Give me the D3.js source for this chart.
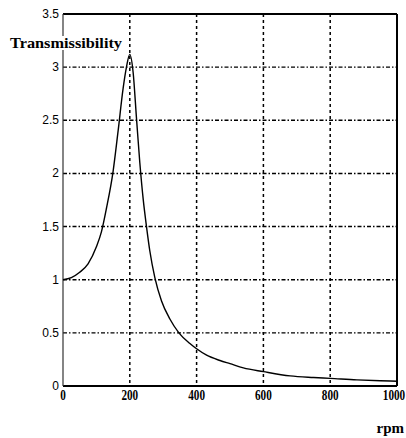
<!DOCTYPE html>
<html><head><meta charset="utf-8">
<script src="https://cdn.jsdelivr.net/npm/d3@7"></script>
<style>body{margin:0;background:#fff}svg{display:block}</style>
</head><body>
<svg id="c" width="406" height="438"></svg>
<script>
const rpm = [0,25,50,75,100,115,130,150,165,180,190,200,210,220,230,240,250,260,275,295,320,347,380,400,430,470,500,540,600,680,750,800,880,950,1000];
const transmissibility = [1.0,1.02,1.07,1.15,1.31,1.45,1.67,2.02,2.4,2.8,3.0,3.12,2.95,2.52,2.1,1.76,1.5,1.27,1.02,0.8,0.63,0.5,0.4,0.35,0.29,0.24,0.21,0.17,0.135,0.095,0.08,0.072,0.058,0.05,0.045];
const xTicks = [0,200,400,600,800,1000];
const yTicks = [0,0.5,1,1.5,2,2.5,3,3.5];
const xGrid = [200,400,600,800];
const yGrid = [0.5,1,1.5,2,2.5,3];

const svg = d3.select("#c");
const x = d3.scaleLinear().domain([0,1000]).range([63,397]);
const y = d3.scaleLinear().domain([0,3.5]).range([386,14]);

// grid
svg.append("g").selectAll("line").data(xGrid).join("line")
  .attr("x1",d=>x(d)).attr("x2",d=>x(d)).attr("y1",y(3.5)).attr("y2",y(0))
  .attr("stroke","#000").attr("stroke-width",1.5).attr("stroke-dasharray","3,3");
svg.append("g").selectAll("line").data(yGrid).join("line")
  .attr("x1",x(0)).attr("x2",x(1000)).attr("y1",d=>y(d)).attr("y2",d=>y(d))
  .attr("stroke","#000").attr("stroke-width",1.4).attr("stroke-dasharray","4,2,1.5,2");

// frame
svg.append("line").attr("x1",x(0)).attr("x2",x(1000)).attr("y1",y(3.5)).attr("y2",y(3.5)).attr("stroke","#000").attr("stroke-width",2);
svg.append("line").attr("x1",x(1000)).attr("x2",x(1000)).attr("y1",y(3.5)).attr("y2",y(0)).attr("stroke","#000").attr("stroke-width",2);
svg.append("line").attr("x1",x(0)).attr("x2",x(1000)).attr("y1",y(0)).attr("y2",y(0)).attr("stroke","#000").attr("stroke-width",2.2);
svg.append("line").attr("x1",x(0)).attr("x2",x(0)).attr("y1",y(3.5)).attr("y2",y(0)).attr("stroke","#333").attr("stroke-width",1.2);

// curve
const line = d3.line().x((d,i)=>x(rpm[i])).y(d=>y(d)).curve(d3.curveMonotoneX);
svg.append("path").attr("d",line(transmissibility)).attr("fill","none").attr("stroke","#000").attr("stroke-width",1.4);

// y tick labels
const tf = "'Liberation Sans Narrow','Arial Narrow','Liberation Sans',sans-serif";
svg.append("g").selectAll("text").data(yTicks).join("text")
  .attr("x",59).attr("y",d=>y(d)+4).attr("text-anchor","end")
  .attr("font-family",tf).attr("font-size",12).text(d=>d);
// x tick labels (last one kept inside the window)
const xl = d => Math.min(x(d), 405 - 11);
svg.append("g").selectAll("text").data(xTicks).join("text")
  .attr("x",xl).attr("y",400).attr("text-anchor","middle")
  .attr("font-family","'Liberation Serif',serif").attr("font-weight","bold").attr("font-size",14)
  .attr("transform",d=>`translate(${xl(d)},0) scale(0.8,1) translate(${-xl(d)},0)`).text(d=>d);

// axis titles
const bg = svg.append("rect").attr("fill","#fff");
const tl = svg.append("text").attr("x",10).attr("y",48)
  .attr("font-family","'Liberation Serif',serif").attr("font-weight","bold").attr("font-size",15)
  .attr("textLength",112).attr("lengthAdjust","spacingAndGlyphs").text("Transmissibility");
const bb = tl.node().getBBox();
bg.attr("x",bb.x).attr("y",bb.y+1).attr("width",bb.width+2).attr("height",bb.height-2);
svg.append("text").attr("x",404).attr("y",433).attr("text-anchor","end")
  .attr("font-family","'Liberation Serif',serif").attr("font-weight","bold").attr("font-size",15).text("rpm");
</script>
</body></html>
